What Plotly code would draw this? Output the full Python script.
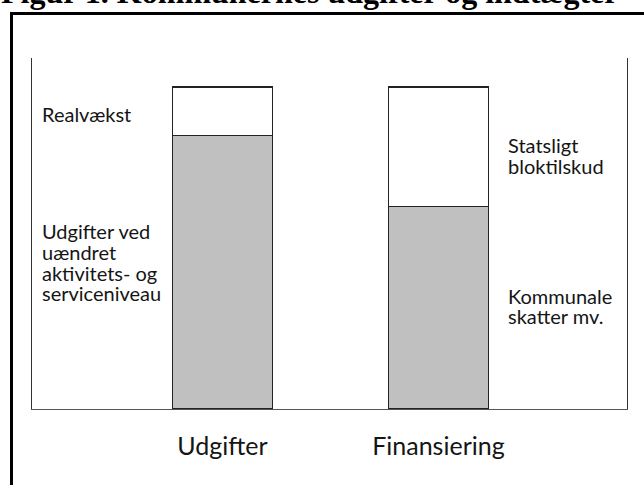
import plotly.graph_objects as go

# ---- data ----
categories = ["Udgifter", "Finansiering"]
lower_values = [85, 63]      # grey part (udgifter ved uændret niveau / kommunale skatter)
upper_values = [15, 37]      # white part (realvækst / statsligt bloktilskud)
left_labels = ["Realvækst"]
left_block = ["Udgifter ved", "uændret", "aktivitets- og", "serviceniveau"]
right_top = ["Statsligt", "bloktilskud"]
right_bottom = ["Kommunale", "skatter mv."]
title_text = "Figur 1. Kommunernes udgifter og indtægter"

W, H = 644, 485
L, R, T, B = 32, 627, 58, 409  # plot area in pixels
PW, PH = R - L, B - T

def px(x):
    return (x - L) / PW

def py(y):
    return (B - y) / PH

fig = go.Figure()
fig.add_trace(go.Bar(x=categories, y=lower_values, width=0.463,
                     marker=dict(color="#c0c0c0", line=dict(color="#222222", width=1.2)),
                     hoverinfo="skip"))
fig.add_trace(go.Bar(x=categories, y=upper_values, width=0.463,
                     marker=dict(color="#ffffff", line=dict(color="#222222", width=1.2)),
                     hoverinfo="skip"))

TXT = "#151515"
ann = []
def add_lines(lines, x_px, first_base, pitch, size=20):
    for i, t in enumerate(lines):
        base = first_base + i * pitch
        center = base - 0.387 * size
        ann.append(dict(text=t, x=px(x_px), y=py(center), xref="paper", yref="paper",
                        xanchor="left", yanchor="middle", showarrow=False, align="left",
                        font=dict(family="Lato", size=size, color=TXT)))

add_lines(left_labels, 40, 122, 20.7)
add_lines(left_block, 40, 239, 20.7)
add_lines(right_top, 506, 152.6, 20.7)
add_lines(right_bottom, 506, 303.3, 20.7)

# title (cut at top in reference)
ann.append(dict(text=title_text, x=px(-1), y=py(12), xref="paper", yref="paper",
                xanchor="left", yanchor="bottom", showarrow=False,
                font=dict(family="Liberation Serif", size=32, color="#000000", weight="bold")))

fig.update_layout(
    width=W, height=H,
    margin=dict(l=L, r=W - R, t=T, b=H - B, pad=0),
    paper_bgcolor="white", plot_bgcolor="white",
    barmode="stack", showlegend=False,
    annotations=ann,
    shapes=[dict(type="rect", xref="paper", yref="paper",
                 x0=px(11.5), x1=px(680), y0=py(540), y1=py(13.5),
                 line=dict(color="#000000", width=3), fillcolor="rgba(0,0,0,0)", layer="above")],
    xaxis=dict(type="category", range=[-0.882, 1.873], showgrid=False, zeroline=False,
               showline=True, linecolor="#555555", linewidth=1, ticks="",
               tickfont=dict(family="Lato", size=25, color=TXT), ticklabelstandoff=15),
    yaxis=dict(range=[0, 100 * PH / 322], showgrid=False, zeroline=False, showticklabels=False,
               showline=True, mirror=True, linecolor="#333333", linewidth=1.3, ticks=""),
)

fig.write_html("out.html", config={"displayModeBar": False},
               post_script="document.body.style.margin='0';")
